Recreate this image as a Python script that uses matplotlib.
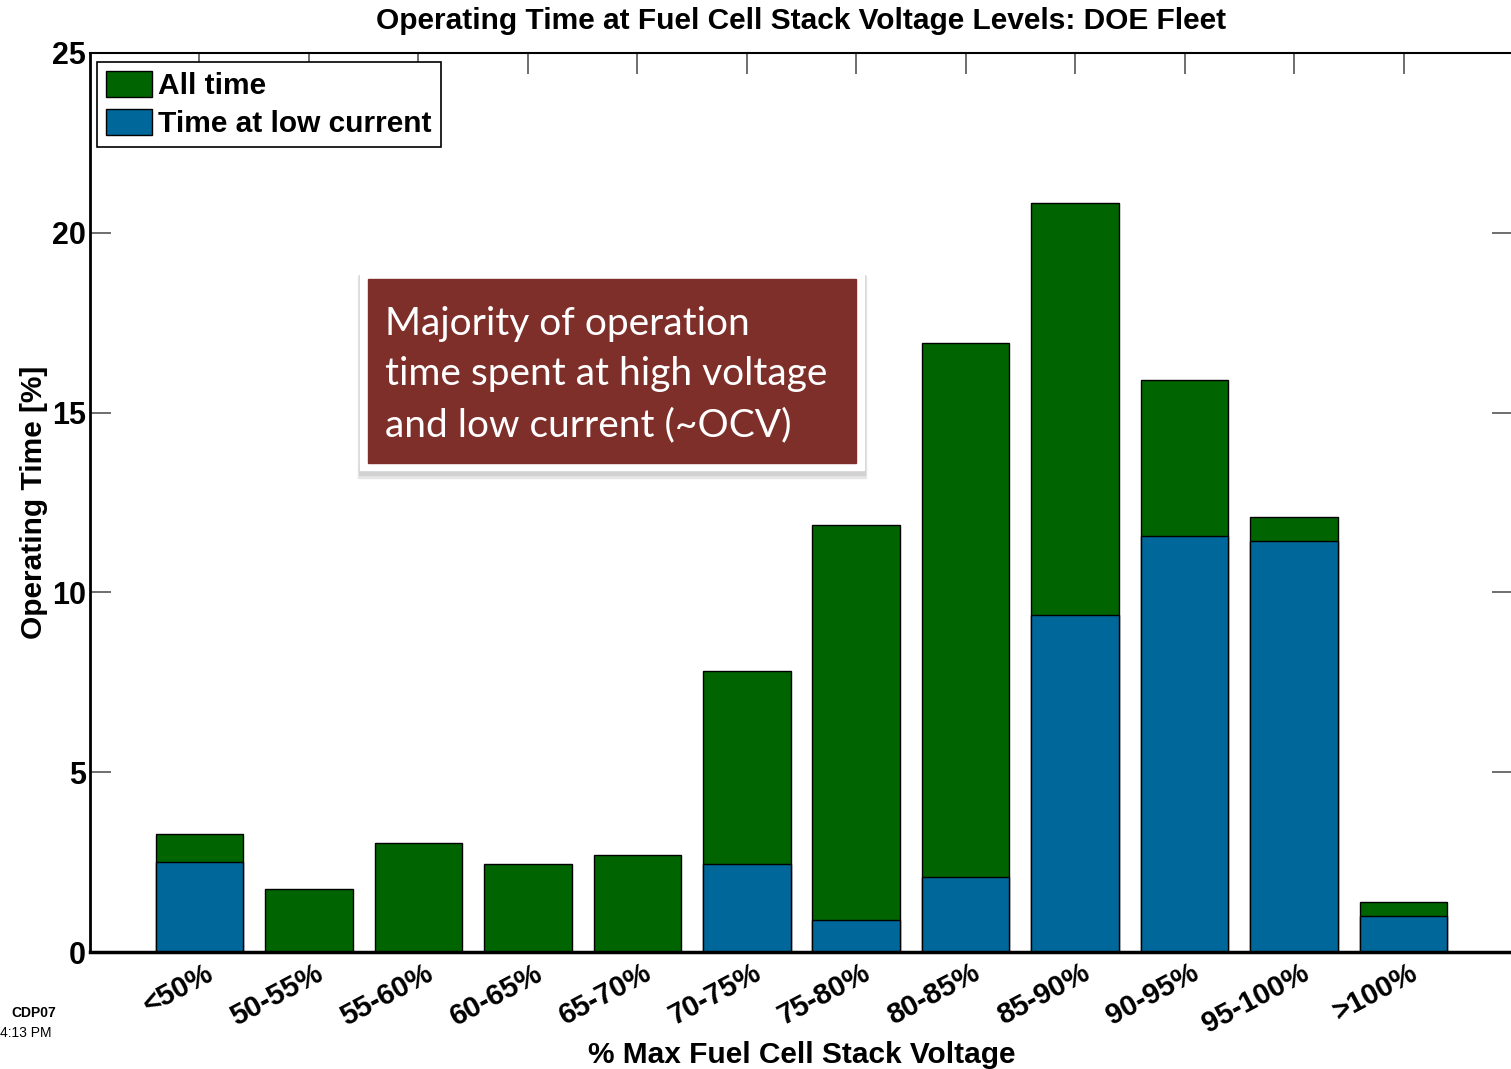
import numpy as np
import matplotlib.pyplot as plt
from matplotlib.patches import Rectangle
from matplotlib.transforms import ScaledTranslation

plt.rcParams['font.family'] = ['Liberation Sans', 'DejaVu Sans']

categories = ['<50%', '50-55%', '55-60%', '60-65%', '65-70%', '70-75%',
              '75-80%', '80-85%', '85-90%', '90-95%', '95-100%', '>100%']
all_time = [3.28, 1.75, 3.03, 2.45, 2.70, 7.81, 11.87, 16.94, 20.83, 15.91, 12.10, 1.39]
low_current = [2.50, 0, 0, 0, 0, 2.45, 0.89, 2.09, 9.37, 11.57, 11.43, 1.00]

W, H = 1511, 1069
fig = plt.figure(figsize=(W / 100, H / 100), dpi=100)
ax = fig.add_axes([90 / W, 1 - 952 / H, (1513 - 90) / W, (952 - 53) / H])

x = np.arange(1, len(categories) + 1)
ax.bar(x, all_time, 0.8, color='#006400', edgecolor='black', linewidth=1,
       label='All time', zorder=2)
ax.bar(x, low_current, 0.8, color='#00679A', edgecolor='black', linewidth=1,
       label='Time at low current', zorder=2)

ax.set_xlim(0, 13)
ax.set_ylim(0, 25)
ax.set_yticks([0, 5, 10, 15, 20, 25])
ax.set_xticks(x)

ax.tick_params(axis='x', direction='in', length=15, color='#555555', width=1.2,
               top=True, bottom=False, pad=5)
ax.tick_params(axis='y', direction='in', length=15, color='#555555', width=1.2,
               right=True, pad=3)

ax.set_xticklabels(categories, rotation=28, fontsize=21, fontweight='bold',
                   ha='right', va='top', rotation_mode='anchor')
off = ScaledTranslation(6 / 100, 0, fig.dpi_scale_trans)
for lab in ax.get_xticklabels():
    lab.set_transform(lab.get_transform() + off)
for lab in ax.get_yticklabels():
    lab.set_fontsize(22)
    lab.set_fontweight('bold')

ax.spines['left'].set_linewidth(2)
ax.spines['bottom'].set_linewidth(2.5)
ax.spines['top'].set_linewidth(1.5)
ax.spines['right'].set_linewidth(1.5)

ax.set_title('Operating Time at Fuel Cell Stack Voltage Levels: DOE Fleet',
             fontsize=21.5, fontweight='bold', pad=17)
ax.set_xlabel('% Max Fuel Cell Stack Voltage', fontsize=21.5, fontweight='bold',
              va='center')
ax.xaxis.set_label_coords(0.5, -(1055 - 952) / 899)
ax.set_ylabel('Operating Time [%]', fontsize=21.5, fontweight='bold', labelpad=3)

leg = ax.legend(loc='upper left', bbox_to_anchor=(7 / 1423, 1 - 9 / 899),
                borderaxespad=0, prop={'weight': 'bold', 'size': 21.5},
                fancybox=False, edgecolor='black', framealpha=1,
                handlelength=1.55, handleheight=0.95, handletextpad=0.2,
                labelspacing=0.3, borderpad=0.3)
leg.get_frame().set_linewidth(1.2)


# annotation box
def fig_rect(x0, y0, x1, y1, **kw):
    fig.patches.append(Rectangle((x0 / W, 1 - y1 / H), (x1 - x0) / W, (y1 - y0) / H,
                                 transform=fig.transFigure, figure=fig, **kw))


fig_rect(358, 276, 866, 478, color='#e6e6e6', zorder=5)
fig_rect(359, 275, 865, 475, color='#d2d2d2', zorder=5)
fig_rect(360, 272, 864, 470, color='white', zorder=6)
fig_rect(368, 279, 856, 463, color='#7F2F29', zorder=7)
fig.text(385 / W, 1 - 306 / H,
         'Majority of operation\ntime spent at high voltage\nand low current (~OCV)',
         fontsize=28, color='white', family=['Lato', 'DejaVu Sans'],
         ha='left', va='top', linespacing=1.5, zorder=8)

fig.text(56 / W, 1 - 1013 / H, 'CDP07', fontsize=10, fontweight='bold',
         ha='right', va='center')
fig.text(52 / W, 1 - 1033 / H, '4:13 PM', fontsize=10,
         ha='right', va='center')

fig.savefig('out.png', dpi=100)
